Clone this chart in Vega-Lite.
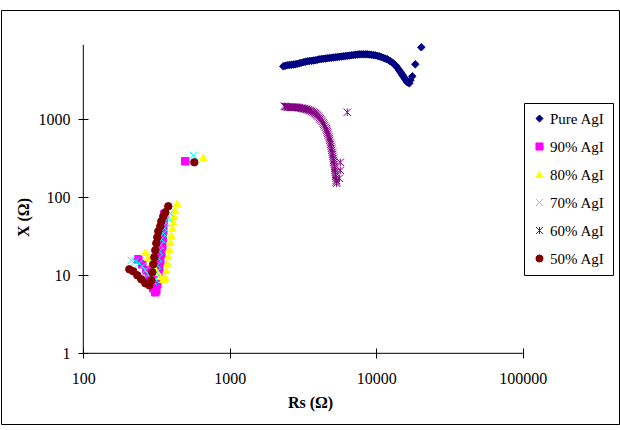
{
  "$schema": "https://vega.github.io/schema/vega-lite/v6.json",
  "width": 618,
  "height": 414,
  "autosize": "none",
  "padding": {"left": 1, "top": 10, "right": 1, "bottom": 6},
  "background": "white",
  "config": {
    "view": {"stroke": "black", "strokeWidth": 1},
    "axis": {"labelFont": "Liberation Serif", "titleFont": "Liberation Serif", "labelColor": "black", "titleColor": "black"}
  },
  "datasets": {
    "pts": [
      {"s": "Pure AgI", "rs": 2318, "x": 4780}, {"s": "Pure AgI", "rs": 2392, "x": 4851}, {"s": "Pure AgI", "rs": 2469, "x": 4923},
      {"s": "Pure AgI", "rs": 2548, "x": 4959}, {"s": "Pure AgI", "rs": 2629, "x": 4996}, {"s": "Pure AgI", "rs": 2713, "x": 5033},
      {"s": "Pure AgI", "rs": 2800, "x": 5071}, {"s": "Pure AgI", "rs": 2890, "x": 5147}, {"s": "Pure AgI", "rs": 2982, "x": 5223},
      {"s": "Pure AgI", "rs": 3077, "x": 5302}, {"s": "Pure AgI", "rs": 3175, "x": 5381}, {"s": "Pure AgI", "rs": 3276, "x": 5461},
      {"s": "Pure AgI", "rs": 3381, "x": 5542}, {"s": "Pure AgI", "rs": 3489, "x": 5582}, {"s": "Pure AgI", "rs": 3601, "x": 5623},
      {"s": "Pure AgI", "rs": 3716, "x": 5664}, {"s": "Pure AgI", "rs": 3834, "x": 5706}, {"s": "Pure AgI", "rs": 3957, "x": 5791},
      {"s": "Pure AgI", "rs": 4083, "x": 5877}, {"s": "Pure AgI", "rs": 4213, "x": 5921}, {"s": "Pure AgI", "rs": 4348, "x": 5965},
      {"s": "Pure AgI", "rs": 4487, "x": 6010}, {"s": "Pure AgI", "rs": 4630, "x": 6055}, {"s": "Pure AgI", "rs": 4778, "x": 6100},
      {"s": "Pure AgI", "rs": 4931, "x": 6145}, {"s": "Pure AgI", "rs": 5088, "x": 6190}, {"s": "Pure AgI", "rs": 5251, "x": 6236},
      {"s": "Pure AgI", "rs": 5418, "x": 6282}, {"s": "Pure AgI", "rs": 5591, "x": 6328}, {"s": "Pure AgI", "rs": 5770, "x": 6375},
      {"s": "Pure AgI", "rs": 5954, "x": 6422}, {"s": "Pure AgI", "rs": 6144, "x": 6470}, {"s": "Pure AgI", "rs": 6340, "x": 6518},
      {"s": "Pure AgI", "rs": 6543, "x": 6566}, {"s": "Pure AgI", "rs": 6752, "x": 6614}, {"s": "Pure AgI", "rs": 6968, "x": 6663},
      {"s": "Pure AgI", "rs": 7190, "x": 6712}, {"s": "Pure AgI", "rs": 7419, "x": 6762}, {"s": "Pure AgI", "rs": 7656, "x": 6812},
      {"s": "Pure AgI", "rs": 7901, "x": 6812}, {"s": "Pure AgI", "rs": 8153, "x": 6812}, {"s": "Pure AgI", "rs": 8413, "x": 6812},
      {"s": "Pure AgI", "rs": 8682, "x": 6812}, {"s": "Pure AgI", "rs": 8959, "x": 6762}, {"s": "Pure AgI", "rs": 9245, "x": 6712},
      {"s": "Pure AgI", "rs": 9540, "x": 6663}, {"s": "Pure AgI", "rs": 9845, "x": 6614}, {"s": "Pure AgI", "rs": 10159, "x": 6518},
      {"s": "Pure AgI", "rs": 10483, "x": 6422}, {"s": "Pure AgI", "rs": 10818, "x": 6282}, {"s": "Pure AgI", "rs": 11163, "x": 6145},
      {"s": "Pure AgI", "rs": 11520, "x": 6010}, {"s": "Pure AgI", "rs": 11888, "x": 5877}, {"s": "Pure AgI", "rs": 12172, "x": 5708},
      {"s": "Pure AgI", "rs": 12462, "x": 5542}, {"s": "Pure AgI", "rs": 12759, "x": 5380}, {"s": "Pure AgI", "rs": 13062, "x": 5223},
      {"s": "Pure AgI", "rs": 13374, "x": 4996}, {"s": "Pure AgI", "rs": 13693, "x": 4780}, {"s": "Pure AgI", "rs": 14020, "x": 4506},
      {"s": "Pure AgI", "rs": 14355, "x": 4248}, {"s": "Pure AgI", "rs": 14582, "x": 4064}, {"s": "Pure AgI", "rs": 14812, "x": 3888},
      {"s": "Pure AgI", "rs": 15047, "x": 3719}, {"s": "Pure AgI", "rs": 15286, "x": 3558}, {"s": "Pure AgI", "rs": 15529, "x": 3404},
      {"s": "Pure AgI", "rs": 15776, "x": 3256}, {"s": "Pure AgI", "rs": 16026, "x": 3115}, {"s": "Pure AgI", "rs": 16279, "x": 2981},
      {"s": "Pure AgI", "rs": 16801, "x": 2894}, {"s": "Pure AgI", "rs": 17066, "x": 3162}, {"s": "Pure AgI", "rs": 17609, "x": 3558},
      {"s": "Pure AgI", "rs": 18460, "x": 5071}, {"s": "Pure AgI", "rs": 20290, "x": 8378},

      {"s": "90% AgI", "rs": 237.4, "x": 16.04}, {"s": "90% AgI", "rs": 252.7, "x": 13.84}, {"s": "90% AgI", "rs": 269.2, "x": 11.59},
      {"s": "90% AgI", "rs": 282.2, "x": 9.71}, {"s": "90% AgI", "rs": 291.2, "x": 8.13}, {"s": "90% AgI", "rs": 300.5, "x": 6.81},
      {"s": "90% AgI", "rs": 310.1, "x": 6.06}, {"s": "90% AgI", "rs": 315.0, "x": 6.42}, {"s": "90% AgI", "rs": 320.0, "x": 7.67},
      {"s": "90% AgI", "rs": 325.0, "x": 9.43}, {"s": "90% AgI", "rs": 330.2, "x": 11.59}, {"s": "90% AgI", "rs": 335.4, "x": 14.68},
      {"s": "90% AgI", "rs": 340.8, "x": 18.59}, {"s": "90% AgI", "rs": 346.2, "x": 23.54}, {"s": "90% AgI", "rs": 349.0, "x": 29.82},
      {"s": "90% AgI", "rs": 351.6, "x": 37.76}, {"s": "90% AgI", "rs": 354.4, "x": 47.81}, {"s": "90% AgI", "rs": 357.2, "x": 60.55},
      {"s": "90% AgI", "rs": 496.9, "x": 289.4},

      {"s": "80% AgI", "rs": 265.0, "x": 19.72}, {"s": "80% AgI", "rs": 277.8, "x": 17.01}, {"s": "80% AgI", "rs": 291.2, "x": 14.68},
      {"s": "80% AgI", "rs": 305.2, "x": 12.66}, {"s": "80% AgI", "rs": 320.0, "x": 10.93}, {"s": "80% AgI", "rs": 335.4, "x": 9.71},
      {"s": "80% AgI", "rs": 351.6, "x": 8.89}, {"s": "80% AgI", "rs": 362.8, "x": 9.43}, {"s": "80% AgI", "rs": 368.6, "x": 11.59},
      {"s": "80% AgI", "rs": 374.5, "x": 14.25}, {"s": "80% AgI", "rs": 380.3, "x": 17.52}, {"s": "80% AgI", "rs": 386.4, "x": 21.54},
      {"s": "80% AgI", "rs": 392.6, "x": 26.49}, {"s": "80% AgI", "rs": 398.7, "x": 32.57}, {"s": "80% AgI", "rs": 405.1, "x": 40.05},
      {"s": "80% AgI", "rs": 411.5, "x": 47.81}, {"s": "80% AgI", "rs": 418.0, "x": 57.06}, {"s": "80% AgI", "rs": 424.6, "x": 68.13},
      {"s": "80% AgI", "rs": 438.1, "x": 83.78}, {"s": "80% AgI", "rs": 659.3, "x": 325.7},

      {"s": "70% AgI", "rs": 212.7, "x": 15.57}, {"s": "70% AgI", "rs": 226.4, "x": 15.12}, {"s": "70% AgI", "rs": 241.1, "x": 14.25},
      {"s": "70% AgI", "rs": 252.7, "x": 13.05}, {"s": "70% AgI", "rs": 265.0, "x": 11.59}, {"s": "70% AgI", "rs": 277.8, "x": 10.30},
      {"s": "70% AgI", "rs": 291.2, "x": 9.15}, {"s": "70% AgI", "rs": 300.5, "x": 8.38}, {"s": "70% AgI", "rs": 310.1, "x": 8.89},
      {"s": "70% AgI", "rs": 315.0, "x": 10.93}, {"s": "70% AgI", "rs": 320.0, "x": 13.44}, {"s": "70% AgI", "rs": 325.0, "x": 16.52},
      {"s": "70% AgI", "rs": 330.2, "x": 20.31}, {"s": "70% AgI", "rs": 335.4, "x": 24.24}, {"s": "70% AgI", "rs": 340.8, "x": 28.94},
      {"s": "70% AgI", "rs": 351.6, "x": 34.55}, {"s": "70% AgI", "rs": 357.2, "x": 40.05}, {"s": "70% AgI", "rs": 368.6, "x": 46.42},
      {"s": "70% AgI", "rs": 380.3, "x": 53.81}, {"s": "70% AgI", "rs": 392.6, "x": 62.36}, {"s": "70% AgI", "rs": 563.6, "x": 345.5},

      {"s": "60% AgI", "rs": 2355, "x": 1468}, {"s": "60% AgI", "rs": 2402, "x": 1457}, {"s": "60% AgI", "rs": 2450, "x": 1446},
      {"s": "60% AgI", "rs": 2498, "x": 1435}, {"s": "60% AgI", "rs": 2548, "x": 1425}, {"s": "60% AgI", "rs": 2599, "x": 1425},
      {"s": "60% AgI", "rs": 2650, "x": 1425}, {"s": "60% AgI", "rs": 2703, "x": 1425}, {"s": "60% AgI", "rs": 2756, "x": 1425},
      {"s": "60% AgI", "rs": 2811, "x": 1425}, {"s": "60% AgI", "rs": 2867, "x": 1425}, {"s": "60% AgI", "rs": 2924, "x": 1414},
      {"s": "60% AgI", "rs": 2982, "x": 1404}, {"s": "60% AgI", "rs": 3041, "x": 1394}, {"s": "60% AgI", "rs": 3101, "x": 1384},
      {"s": "60% AgI", "rs": 3162, "x": 1373}, {"s": "60% AgI", "rs": 3225, "x": 1363}, {"s": "60% AgI", "rs": 3289, "x": 1353},
      {"s": "60% AgI", "rs": 3354, "x": 1343}, {"s": "60% AgI", "rs": 3421, "x": 1324}, {"s": "60% AgI", "rs": 3489, "x": 1305},
      {"s": "60% AgI", "rs": 3558, "x": 1285}, {"s": "60% AgI", "rs": 3629, "x": 1266}, {"s": "60% AgI", "rs": 3701, "x": 1239},
      {"s": "60% AgI", "rs": 3774, "x": 1212}, {"s": "60% AgI", "rs": 3834, "x": 1185}, {"s": "60% AgI", "rs": 3895, "x": 1159},
      {"s": "60% AgI", "rs": 3956, "x": 1126}, {"s": "60% AgI", "rs": 4019, "x": 1093}, {"s": "60% AgI", "rs": 4083, "x": 1053},
      {"s": "60% AgI", "rs": 4147, "x": 1015}, {"s": "60% AgI", "rs": 4213, "x": 978}, {"s": "60% AgI", "rs": 4280, "x": 942.7},
      {"s": "60% AgI", "rs": 4331, "x": 902}, {"s": "60% AgI", "rs": 4382, "x": 863.0}, {"s": "60% AgI", "rs": 4434, "x": 826},
      {"s": "60% AgI", "rs": 4486, "x": 789.8}, {"s": "60% AgI", "rs": 4539, "x": 755}, {"s": "60% AgI", "rs": 4593, "x": 722.7},
      {"s": "60% AgI", "rs": 4629, "x": 691}, {"s": "60% AgI", "rs": 4666, "x": 661.4}, {"s": "60% AgI", "rs": 4703, "x": 628},
      {"s": "60% AgI", "rs": 4740, "x": 596.7}, {"s": "60% AgI", "rs": 4777, "x": 567}, {"s": "60% AgI", "rs": 4815, "x": 538.0},
      {"s": "60% AgI", "rs": 4853, "x": 507}, {"s": "60% AgI", "rs": 4892, "x": 478.1}, {"s": "60% AgI", "rs": 4919, "x": 451},
      {"s": "60% AgI", "rs": 4946, "x": 424.9}, {"s": "60% AgI", "rs": 4977, "x": 401}, {"s": "60% AgI", "rs": 5008, "x": 377.6},
      {"s": "60% AgI", "rs": 5036, "x": 356}, {"s": "60% AgI", "rs": 5064, "x": 335.5}, {"s": "60% AgI", "rs": 5088, "x": 316},
      {"s": "60% AgI", "rs": 5112, "x": 298.1}, {"s": "60% AgI", "rs": 5140, "x": 281}, {"s": "60% AgI", "rs": 5168, "x": 264.9},
      {"s": "60% AgI", "rs": 5188, "x": 250}, {"s": "60% AgI", "rs": 5209, "x": 235.4}, {"s": "60% AgI", "rs": 5229, "x": 222},
      {"s": "60% AgI", "rs": 5250, "x": 209.2}, {"s": "60% AgI", "rs": 5271, "x": 197}, {"s": "60% AgI", "rs": 5292, "x": 185.9},
      {"s": "60% AgI", "rs": 5312, "x": 175}, {"s": "60% AgI", "rs": 5333, "x": 165.2}, {"s": "60% AgI", "rs": 5345, "x": 158},
      {"s": "60% AgI", "rs": 5358, "x": 151.2}, {"s": "60% AgI", "rs": 5680, "x": 281.0}, {"s": "60% AgI", "rs": 5680, "x": 221.9},
      {"s": "60% AgI", "rs": 5591, "x": 175.3}, {"s": "60% AgI", "rs": 6340, "x": 1229},

      {"s": "50% AgI", "rs": 206.1, "x": 11.94}, {"s": "50% AgI", "rs": 219.4, "x": 11.25}, {"s": "50% AgI", "rs": 233.6, "x": 10.0},
      {"s": "50% AgI", "rs": 248.8, "x": 8.89}, {"s": "50% AgI", "rs": 265.0, "x": 7.90}, {"s": "50% AgI", "rs": 282.2, "x": 7.44},
      {"s": "50% AgI", "rs": 291.2, "x": 8.63}, {"s": "50% AgI", "rs": 295.8, "x": 10.93}, {"s": "50% AgI", "rs": 300.5, "x": 13.84},
      {"s": "50% AgI", "rs": 305.2, "x": 17.01}, {"s": "50% AgI", "rs": 310.1, "x": 20.92}, {"s": "50% AgI", "rs": 315.0, "x": 25.72},
      {"s": "50% AgI", "rs": 320.0, "x": 30.71}, {"s": "50% AgI", "rs": 325.0, "x": 36.65}, {"s": "50% AgI", "rs": 335.4, "x": 42.49},
      {"s": "50% AgI", "rs": 340.8, "x": 49.24}, {"s": "50% AgI", "rs": 351.6, "x": 57.06}, {"s": "50% AgI", "rs": 362.8, "x": 64.22},
      {"s": "50% AgI", "rs": 380.3, "x": 76.66}, {"s": "50% AgI", "rs": 572.5, "x": 281}
    ]
  },
  "layer": [
    {
      "data": {"values": [{}]},
      "mark": {"type": "rule", "color": "black", "strokeWidth": 1},
      "encoding": {
        "x": {"datum": 100, "type": "quantitative", "title": "Rs (Ω)"},
        "y": {"datum": 1, "type": "quantitative", "title": "X (Ω)"},
        "y2": {"datum": 9000}
      }
    },
    {
      "data": {"values": [{}]},
      "mark": {"type": "rule", "color": "black", "strokeWidth": 1},
      "encoding": {
        "x": {"datum": 100, "type": "quantitative", "title": "Rs (Ω)"},
        "x2": {"datum": 100000},
        "y": {"datum": 1, "type": "quantitative", "title": "X (Ω)"}
      }
    },
    {
      "data": {"name": "pts"},
      "mark": {"type": "point", "filled": true, "size": 56, "strokeWidth": 1, "opacity": 1},
      "encoding": {
        "x": {
          "field": "rs", "type": "quantitative", "title": "Rs (Ω)",
          "scale": {"type": "log", "domain": [27.43, 453670], "nice": false},
          "axis": {
            "values": [100, 1000, 10000, 100000], "format": "d", "domain": false, "grid": false,
            "tickSize": 10, "tickColor": "black", "tickWidth": 1, "offset": -76,
            "labelPadding": 12, "labelFontSize": 16, "labelFlush": false, "labelOverlap": false,
            "titleFontSize": 16, "titleFontWeight": "bold", "titlePadding": 8
          }
        },
        "y": {
          "field": "x", "type": "quantitative", "title": "X (Ω)",
          "scale": {"type": "log", "domain": [0.12406, 25193], "nice": false},
          "axis": {
            "values": [1, 10, 100, 1000], "format": "d", "domain": false, "grid": false,
            "tickSize": 10, "tickColor": "black", "tickWidth": 1, "offset": -87,
            "labelPadding": 8, "labelFontSize": 16, "labelFlush": false, "labelOverlap": false,
            "titleFontSize": 16, "titleFontWeight": "bold", "titlePadding": 7
          }
        },
        "fill": {
          "field": "s", "type": "nominal",
          "scale": {"domain": ["Pure AgI", "90% AgI", "80% AgI", "70% AgI", "60% AgI", "50% AgI"], "range": ["#000080", "#FF00FF", "#FFFF00", "#00FFFF", "#800080", "#800000"]},
          "legend": {"orient": "none", "legendX": 523, "legendY": 93, "title": null, "strokeColor": "black", "fillColor": "white", "padding": 8, "labelFont": "Liberation Serif", "labelFontSize": 15, "labelColor": "black", "symbolSize": 50, "symbolStrokeWidth": 1, "rowPadding": 12, "labelOffset": 3}
        },
        "stroke": {
          "field": "s", "type": "nominal",
          "scale": {"domain": ["Pure AgI", "90% AgI", "80% AgI", "70% AgI", "60% AgI", "50% AgI"], "range": ["#000080", "#FF00FF", "#FFFF00", "#00FFFF", "#800080", "#800000"]},
          "legend": {"orient": "none", "legendX": 523, "legendY": 93, "title": null, "strokeColor": "black", "fillColor": "white", "padding": 8, "labelFont": "Liberation Serif", "labelFontSize": 15, "labelColor": "black", "symbolSize": 50, "symbolStrokeWidth": 1, "rowPadding": 12, "labelOffset": 3}
        },
        "shape": {
          "field": "s", "type": "nominal",
          "scale": {"domain": ["Pure AgI", "90% AgI", "80% AgI", "70% AgI", "60% AgI", "50% AgI"], "range": ["diamond", "square", "triangle-up", "M-1,-1L1,1M-1,1L1,-1", "M-1,-1L1,1M-1,1L1,-1M0,-1L0,1", "circle"]},
          "legend": {"orient": "none", "legendX": 523, "legendY": 93, "title": null, "strokeColor": "black", "fillColor": "white", "padding": 8, "labelFont": "Liberation Serif", "labelFontSize": 15, "labelColor": "black", "symbolSize": 50, "symbolStrokeWidth": 1, "rowPadding": 12, "labelOffset": 3}
        }
      }
    }
  ]
}
